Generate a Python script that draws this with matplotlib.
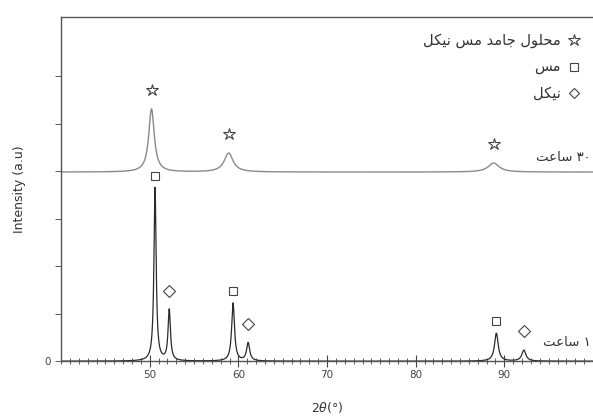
import numpy as np
import matplotlib
matplotlib.use("Agg")
import matplotlib.pyplot as plt
from matplotlib.transforms import offset_copy
from matplotlib.ticker import MultipleLocator

plt.rcParams["font.family"] = ["DejaVu Sans"]

# peak positions (2theta), heights and widths
pos_1h = [50.6, 52.2, 59.4, 61.1, 89.1, 92.2]
height_1h = [3.65, 1.07, 1.22, 0.38, 0.59, 0.23]
width_1h = [0.3, 0.32, 0.38, 0.42, 0.5, 0.55]
phase_1h = ["cu", "ni", "cu", "ni", "cu", "ni"]

pos_30h = [50.2, 58.9, 88.8]
height_30h = [1.33, 0.40, 0.19]
width_30h = [0.75, 1.2, 1.5]
base_30h = 3.98

# persian labels (presentation forms, visual order)
lbl_ss = "\uFEDE\uFEDC\uFEF4\uFEE7 \uFEB2\uFEE3 \uFEAA\uFEE3\uFE8E\uFE9F \uFEDD\uFEEE\uFEE0\uFEA4\uFEE3"
lbl_cu = "\uFEB2\uFEE3"
lbl_ni = "\uFEDE\uFEDC\uFEF4\uFEE7"
saat = "\uFE96\uFECB\uFE8E\uFEB3"
lbl_30h = saat + " \u06F3\u06F0"
lbl_1h = saat + " \u06F1"


def profile(x, pos, hgt, wid):
    y = np.zeros_like(x)
    for p, h, w in zip(pos, hgt, wid):
        g = (w / 2) ** 2
        y += h * g / ((x - p) ** 2 + g)
    return y


x = np.arange(40, 100.001, 0.01)
y1 = profile(x, pos_1h, height_1h, width_1h)
y30 = base_30h + profile(x, pos_30h, height_30h, width_30h)

fig = plt.figure(figsize=(5.93, 4.19), dpi=100)
ax = fig.add_axes([0.103, 0.138, 0.897, 0.821])

ax.plot(x, y30, color="#8a8a8a", lw=1.0)
ax.plot(x, y1, color="#2a2a2a", lw=0.9)

# markers above the peaks
star_off = offset_copy(ax.transData, fig=fig, x=0, y=19, units="dots")
sq_off = offset_copy(ax.transData, fig=fig, x=0, y=12, units="dots")
dia_off = offset_copy(ax.transData, fig=fig, x=0, y=19, units="dots")
for p, h in zip(pos_30h, height_30h):
    ax.plot(p, base_30h + h, marker="*", ms=9, mfc="white", mec="#444",
            mew=0.8, transform=star_off)
for p, h, ph in zip(pos_1h, height_1h, phase_1h):
    if ph == "cu":
        ax.plot(p, h, marker="s", ms=6, mfc="white", mec="#444", mew=0.8,
                transform=sq_off)
    else:
        ax.plot(p, h, marker="D", ms=6, mfc="white", mec="#444", mew=0.8,
                transform=dia_off)

# legend drawn by hand (right aligned persian text)
leg = [("*", 9, lbl_ss), ("s", 6, lbl_cu), ("D", 5.5, lbl_ni)]
for i, (m, ms, t) in enumerate(leg):
    yy = 0.933 - i * 0.077
    ax.plot(0.964, yy, marker=m, ms=ms, mfc="white", mec="#444", mew=0.8,
            transform=ax.transAxes)
    ax.text(0.94, yy, t, transform=ax.transAxes, ha="right", va="center",
            fontsize=10.5, color="#333")

ax.text(0.995, base_30h + 0.3, lbl_30h, ha="right", va="center",
        fontsize=9.5, color="#333", transform=ax.get_yaxis_transform())
ax.text(0.995, 0.4, lbl_1h, ha="right", va="center",
        fontsize=9.5, color="#333", transform=ax.get_yaxis_transform())

ax.set_xlim(40, 100)
ax.set_ylim(0, 7.24)
ax.set_xticks([50, 60, 70, 80, 90])
ax.xaxis.set_minor_locator(MultipleLocator(1))
ax.set_yticks(range(0, 7))
ax.set_yticklabels(["0", "", "", "", "", "", ""])
ax.tick_params(axis="x", which="major", direction="inout", length=8,
               width=0.8, colors="#444", labelsize=7.5, pad=2)
ax.tick_params(axis="x", which="minor", direction="inout", length=4,
               width=0.6, colors="#444")
ax.tick_params(axis="y", direction="out", length=4, width=0.6,
               colors="#444", labelsize=7.5)
for s in ["left", "top", "bottom"]:
    ax.spines[s].set_color("#555")
    ax.spines[s].set_linewidth(1.0)
ax.spines["right"].set_visible(False)

ax.set_xlabel(r"2$\theta$(°)", fontsize=9, color="#333", labelpad=15)
ax.set_ylabel("Intensity (a.u)", fontsize=9, color="#333", labelpad=13)

fig.savefig("out.png", dpi=100)
